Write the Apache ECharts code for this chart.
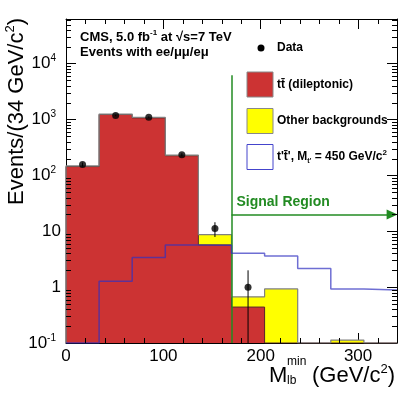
<!DOCTYPE html>
<html><head><meta charset="utf-8">
<script src="https://cdn.jsdelivr.net/npm/echarts@6/dist/echarts.min.js"></script>
<style>html,body{margin:0;padding:0;background:#fff}#c{width:412px;height:395px}</style>
</head><body><div id="c"></div>
<script>
// ---- data ----
const binEdges   = [0, 34, 68, 102, 136, 170, 204, 238, 272, 306, 340];
const ttbarDilep = [144, 1230, 1070, 225, 5.7, 0.44, 0, 0, 0, 0];
const otherBkg   = [4, 20, 21, 5, 3.0, 0.23, 0.93, 0, 0.113, 0];
const signalTp   = [0, 1.27, 3.38, 5.7, 5.6, 4.03, 3.62, 2.15, 0.93, 0.89];
const dataCounts = [157, 1183, 1104, 235, 11.2, 1.0];
const dataErrors = [12.5, 34.4, 33.2, 15.3, 3.3, 1.0];
const minorTickMultipliers = [2, 3, 4, 5, 6, 7, 8, 9];
const decadeExponents = [-1, 0, 1, 2, 3, 4];
const xMinorStep = 20;
const yMin = 0.1, yMax = 6.3e4;
const xMin = 0, xMax = 340;
const signalCut = 170, cutLineTop = 6200, arrowLevel = 20, arrowEnd = 335;

const FONT = 'Liberation Sans, Arial, Helvetica, sans-serif';
const totalBkg = ttbarDilep.map((v, i) => v + otherBkg[i]);
const binCenters = binEdges.slice(0, -1).map((e, i) => (e + binEdges[i + 1]) / 2);

function histRects(values) {
  return values.map((v, i) => [binEdges[i], binEdges[i + 1], v]).filter(d => d[2] > 0);
}
function rectSeries(name, values, color, z) {
  return {
    type: 'custom', name, z, clip: true, data: histRects(values),
    encode: { x: [0, 1], y: 2 },
    renderItem(params, api) {
      const p1 = api.coord([api.value(0), api.value(2)]);
      const p2 = api.coord([api.value(1), yMin]);
      const x0 = Math.round(p1[0]), x1 = Math.round(p2[0]);
      return { type: 'rect', shape: { x: x0, y: p1[1], width: x1 - x0, height: p2[1] - p1[1] },
               style: { fill: color } };
    }
  };
}
function stepPoints(values, closeEnd) {
  const pts = [[binEdges[0], yMin]];
  values.forEach((v, i) => {
    const y = v > yMin ? v : yMin;
    pts.push([binEdges[i], y], [binEdges[i + 1], y]);
  });
  if (closeEnd) pts.push([binEdges[binEdges.length - 1], yMin]);
  return pts;
}
function stepSeries(values, color, width, opacity, z, closeEnd) {
  return { type: 'line', data: stepPoints(values, closeEnd), showSymbol: false, symbol: 'none', z,
           lineStyle: { color, width, opacity }, clip: true, silent: true };
}
// minor tick positions (axis decoration)
const yMinorTicks = [];
decadeExponents.forEach(e => minorTickMultipliers.forEach(m => {
  const v = m * Math.pow(10, e);
  if (v < yMax) yMinorTicks.push([xMin, v]);
}));
const xMinorTicks = [];
for (let x = xMin + xMinorStep; x < xMax; x += xMinorStep) if (x % 100 !== 0) xMinorTicks.push([x, yMin]);

function xAxisDef(position, showLabel) {
  return {
    type: 'value', min: xMin, max: xMax, interval: 100, position,
    axisLine: { show: true, onZero: false, lineStyle: { color: '#000', width: 1 } },
    axisTick: { show: true, inside: true, length: 10, lineStyle: { color: '#000', width: 1 } },
    axisLabel: { show: showLabel, fontSize: 17, color: '#000', fontFamily: FONT, margin: 5, showMaxLabel: false },
    splitLine: { show: false }
  };
}
function yAxisDef(position, showLabel) {
  return {
    type: 'log', logBase: 10, min: yMin, max: yMax, position,
    axisLine: { show: true, onZero: false, lineStyle: { color: '#000', width: 1 } },
    axisTick: { show: true, inside: true, length: 10, lineStyle: { color: '#000', width: 1 } },
    axisLabel: {
      show: showLabel, showMaxLabel: false, margin: 5, color: '#000', fontFamily: FONT,
      formatter: v => {
        const e = Math.round(Math.log10(v));
        if (e === 0) return '{b|1}';
        if (e === 1) return '{b|10}';
        return '{b|10}{s|' + e + '}';
      },
      rich: {
        b: { fontSize: 17, lineHeight: 20, fontFamily: FONT, color: '#000' },
        s: { fontSize: 10, lineHeight: 11, verticalAlign: 'top', fontFamily: FONT, color: '#000', padding: [0, 5, 0, 0] }
      }
    },
    splitLine: { show: false }
  };
}

const green = '#228b22';
const option = {
  animation: false,
  backgroundColor: '#fff',
  grid: { left: 66, right: 15, top: 19, bottom: 52 },
  xAxis: [xAxisDef('bottom', true), xAxisDef('top', false)],
  yAxis: [yAxisDef('left', true), yAxisDef('right', false)],
  series: [
    rectSeries('Other backgrounds', totalBkg, '#ffff00', 1),
    rectSeries('tt (dileptonic)', ttbarDilep, '#cc3333', 2),
    stepSeries(ttbarDilep, '#5a2a2a', 1, 1, 3, true),
    stepSeries(totalBkg, '#808080', 1.2, 1, 4, true),
    stepSeries(signalTp, '#3030c0', 1.5, 0.7, 5, false),
    {
      type: 'custom', z: 10, clip: false, data: yMinorTicks, encode: { x: 0, y: 1 },
      renderItem(params, api) {
        const v = api.value(1);
        const pl = api.coord([xMin, v]);
        const pr = api.coord([xMax, v]);
        const y = Math.round(pl[1]) + 0.5;
        return { type: 'group', children: [
          { type: 'line', shape: { x1: pl[0], y1: y, x2: pl[0] + 5, y2: y }, style: { stroke: '#000', lineWidth: 1 } },
          { type: 'line', shape: { x1: pr[0] - 5, y1: y, x2: pr[0], y2: y }, style: { stroke: '#000', lineWidth: 1 } }
        ] };
      }
    },
    {
      type: 'custom', z: 10, clip: false, data: xMinorTicks, encode: { x: 0, y: 1 },
      renderItem(params, api) {
        const x = api.value(0);
        const pb = api.coord([x, yMin]);
        const pt = api.coord([x, yMax]);
        const xx = Math.round(pb[0]) + 0.5;
        return { type: 'group', children: [
          { type: 'line', shape: { x1: xx, y1: pb[1], x2: xx, y2: pb[1] - 5 }, style: { stroke: '#000', lineWidth: 1 } },
          { type: 'line', shape: { x1: xx, y1: pt[1], x2: xx, y2: pt[1] + 5 }, style: { stroke: '#000', lineWidth: 1 } }
        ] };
      }
    },
    {
      type: 'custom', z: 8, clip: true,
      data: dataCounts.map((v, i) => [binCenters[i], v, dataErrors[i]]), encode: { x: 0, y: 1 },
      renderItem(params, api) {
        const x = api.value(0), v = api.value(1), e = api.value(2);
        const lo = Math.max(v - e, yMin);
        const p1 = api.coord([x, lo]), p2 = api.coord([x, v + e]);
        return { type: 'line', shape: { x1: p1[0], y1: p1[1], x2: p2[0], y2: p2[1] }, style: { stroke: '#000', lineWidth: 1 } };
      }
    },
    {
      type: 'scatter', z: 9, symbol: 'circle', symbolSize: 7, itemStyle: { color: '#000' },
      data: dataCounts.map((v, i) => [binCenters[i], v]),
      markLine: {
        silent: true, animation: false, symbol: ['none', 'none'],
        lineStyle: { color: green, width: 1.5, type: 'solid' },
        label: { show: false },
        data: [
          [{ coord: [signalCut, yMin] }, { coord: [signalCut, cutLineTop] }],
          [{ coord: [signalCut, arrowLevel], symbol: 'none',
             label: { show: true, position: 'insideStartTop', formatter: 'Signal Region', color: green,
                      fontSize: 14, fontWeight: 'bold', fontFamily: FONT, distance: 5 } },
           { coord: [arrowEnd, arrowLevel], symbol: 'triangle', symbolSize: [10, 11] }]
        ]
      }
    }
  ],
  graphic: [
    { type: 'text', x: 80, y: 37, z: 20, style: { text: '{t|CMS, 5.0 fb}{s|-1}{t| at √s=7 TeV}', verticalAlign: 'middle',
      rich: { t: { fontSize: 13, fontWeight: 'bold', fontFamily: FONT, lineHeight: 16, fill: '#000' },
              s: { fontSize: 8, fontWeight: 'bold', fontFamily: FONT, lineHeight: 9, verticalAlign: 'top', fill: '#000' } } } },
    { type: 'text', x: 80, y: 52, z: 20, style: { text: 'Events with ee/μμ/eμ', fontSize: 13, fontWeight: 'bold', fontFamily: FONT, fill: '#000', verticalAlign: 'middle' } },
    { type: 'circle', z: 20, shape: { cx: 261, cy: 48, r: 3.5 }, style: { fill: '#000' } },
    { type: 'text', x: 277, y: 48, z: 20, style: { text: 'Data', fontSize: 12, fontWeight: 'bold', fontFamily: FONT, fill: '#000', verticalAlign: 'middle' } },
    { type: 'rect', z: 20, shape: { x: 247, y: 72, width: 26, height: 25 }, style: { fill: '#cc3333', stroke: '#888', lineWidth: 1 } },
    { type: 'text', x: 277, y: 84.5, z: 20, style: { text: 'tt\u0304 (dileptonic)', fontSize: 12, fontWeight: 'bold', fontFamily: FONT, fill: '#000', verticalAlign: 'middle' } },
    { type: 'rect', z: 20, shape: { x: 247, y: 108.5, width: 26, height: 25 }, style: { fill: '#ffff00', stroke: '#888', lineWidth: 1 } },
    { type: 'text', x: 277, y: 121, z: 20, style: { text: 'Other backgrounds', fontSize: 12, fontWeight: 'bold', fontFamily: FONT, fill: '#000', verticalAlign: 'middle' } },
    { type: 'rect', z: 20, shape: { x: 247, y: 144.5, width: 26, height: 25 }, style: { fill: '#fff', stroke: '#4444cc', lineWidth: 1 } },
    { type: 'text', x: 277, y: 157, z: 20, style: { text: "{t|t't\u0304', M}{b|t'}{t| = 450 GeV/c}{p|2}", verticalAlign: 'middle',
      rich: { t: { fontSize: 12, fontWeight: 'bold', fontFamily: FONT, lineHeight: 16, fill: '#000' },
              b: { fontSize: 7, fontWeight: 'bold', fontFamily: FONT, lineHeight: 8, verticalAlign: 'bottom', fill: '#000' },
              p: { fontSize: 8, fontWeight: 'bold', fontFamily: FONT, lineHeight: 9, verticalAlign: 'top', fill: '#000' } } } },
    // y axis title
    { type: 'text', x: 17, y: 18, rotation: Math.PI / 2, z: 20,
      style: { text: '{t|Events/(34 GeV/c}{s|2}{t|)}', align: 'right', verticalAlign: 'middle',
        rich: { t: { fontSize: 22, fontFamily: FONT, lineHeight: 26, fill: '#000' },
                s: { fontSize: 13, fontFamily: FONT, lineHeight: 14, verticalAlign: 'top', fill: '#000' } } } },
    // x axis title
    { type: 'text', x: 269, y: 376, z: 20, style: { text: 'M', fontSize: 22, fontFamily: FONT, fill: '#000', verticalAlign: 'middle' } },
    { type: 'text', x: 287, y: 362, z: 20, style: { text: 'min', fontSize: 12, fontFamily: FONT, fill: '#000', verticalAlign: 'middle' } },
    { type: 'text', x: 287, y: 381, z: 20, style: { text: 'lb', fontSize: 12, fontFamily: FONT, fill: '#000', verticalAlign: 'middle' } },
    { type: 'text', x: 312, y: 376, z: 20, style: { text: '{t|(GeV/c}{s|2}{t|)}', verticalAlign: 'middle',
      rich: { t: { fontSize: 22, fontFamily: FONT, lineHeight: 26, fill: '#000' },
              s: { fontSize: 13, fontFamily: FONT, lineHeight: 14, verticalAlign: 'top', fill: '#000' } } } }
  ]
};
const chart = echarts.init(document.getElementById('c'), null, { renderer: 'canvas' });
chart.setOption(option);
</script>
</body></html>
